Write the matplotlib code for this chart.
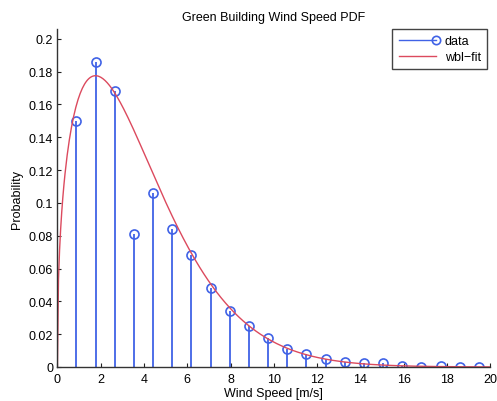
import matplotlib
matplotlib.use("Agg")
import matplotlib.pyplot as plt
from matplotlib.lines import Line2D
from matplotlib.legend_handler import HandlerLine2D
import numpy as np

plt.rcParams["font.family"] = ["Liberation Sans", "DejaVu Sans"]
plt.rcParams["font.size"] = 9

# Histogram bin centres (m/s) and measured probabilities
wind_bins = [0.88, 1.77, 2.65, 3.54, 4.42, 5.31, 6.19, 7.08, 7.96, 8.85, 9.73,
             10.62, 11.50, 12.39, 13.27, 14.16, 15.04, 15.93, 16.81, 17.70,
             18.58, 19.47]
probability = [0.150, 0.186, 0.168, 0.081, 0.106, 0.084, 0.068, 0.048, 0.034,
               0.025, 0.0177, 0.011, 0.0079, 0.0049, 0.0032, 0.0026, 0.0023,
               0.0008, 0.0002, 0.0006, 0.0002, 0.0002]

# Weibull fit parameters (scale c, shape k)
wbl_scale = 4.15
wbl_shape = 1.42

x_ticks = [0, 2, 4, 6, 8, 10, 12, 14, 16, 18, 20]
y_ticks = [0, 0.02, 0.04, 0.06, 0.08, 0.1, 0.12, 0.14, 0.16, 0.18, 0.2]
y_tick_labels = ["0", "0.02", "0.04", "0.06", "0.08", "0.1", "0.12", "0.14",
                 "0.16", "0.18", "0.2"]

BLUE = "#4062e6"
RED = "#dc4a5e"


class StemKeyHandler(HandlerLine2D):
    """Legend key: a line with the open circle sitting on its right end."""

    def create_artists(self, legend, orig_handle, xdescent, ydescent,
                       width, height, fontsize, trans):
        y = height / 2 - ydescent
        x0, x1 = -xdescent, width - xdescent
        line = Line2D([x0, x1], [y, y], color=BLUE, lw=1.0)
        mark = Line2D([x1], [y], marker="o", ms=6, mfc="none", mec=BLUE,
                      mew=1.2, ls="none")
        line.set_transform(trans)
        mark.set_transform(trans)
        return [line, mark]


fig = plt.figure(figsize=(4.97, 4.02), dpi=100)
ax = fig.add_axes([0.1155, 0.0846, 0.871, 0.8407])

markerline, stemlines, baseline = ax.stem(wind_bins, probability)
stemlines.set_color(BLUE)
stemlines.set_linewidth(1.3)
markerline.set_color(BLUE)
markerline.set_markerfacecolor("none")
markerline.set_markersize(6.5)
markerline.set_markeredgewidth(1.2)
baseline.set_visible(False)

xs = np.linspace(0, 20, 400)
u = xs / wbl_scale
pdf = (wbl_shape / wbl_scale) * u ** (wbl_shape - 1) * np.exp(-u ** wbl_shape)
ax.plot(xs, pdf, color=RED, lw=1.0)

ax.set_xlim(0, 20)
ax.set_ylim(0, 0.206)
ax.set_xticks(x_ticks)
ax.set_yticks(y_ticks)
ax.set_yticklabels(y_tick_labels)
ax.tick_params(direction="in", length=3, width=0.8, color="#222222",
               labelsize=9, pad=3)
ax.tick_params(axis="x", pad=4)
for side in ("top", "right"):
    ax.spines[side].set_visible(False)
for side in ("left", "bottom"):
    ax.spines[side].set_color("#333333")
    ax.spines[side].set_linewidth(1.0)

ax.set_title("Green Building Wind Speed PDF", fontsize=9, pad=6.5)
ax.set_xlabel("Wind Speed [m/s]", labelpad=1.5)
ax.set_ylabel("Probability", labelpad=4)

data_key = Line2D([], [], color=BLUE)
fit_key = Line2D([], [], color=RED, lw=1.0)
leg = ax.legend([data_key, fit_key], ["data", "wbl\u2212fit"],
                handler_map={data_key: StemKeyHandler()},
                loc="upper right", bbox_to_anchor=(0.993, 1.0),
                fancybox=False, framealpha=1, edgecolor="#444444",
                borderpad=0.5, handlelength=3.0, handletextpad=0.7,
                labelspacing=0.3, borderaxespad=0.0)
leg.get_frame().set_linewidth(1.0)

fig.savefig("out.png", dpi=100)
